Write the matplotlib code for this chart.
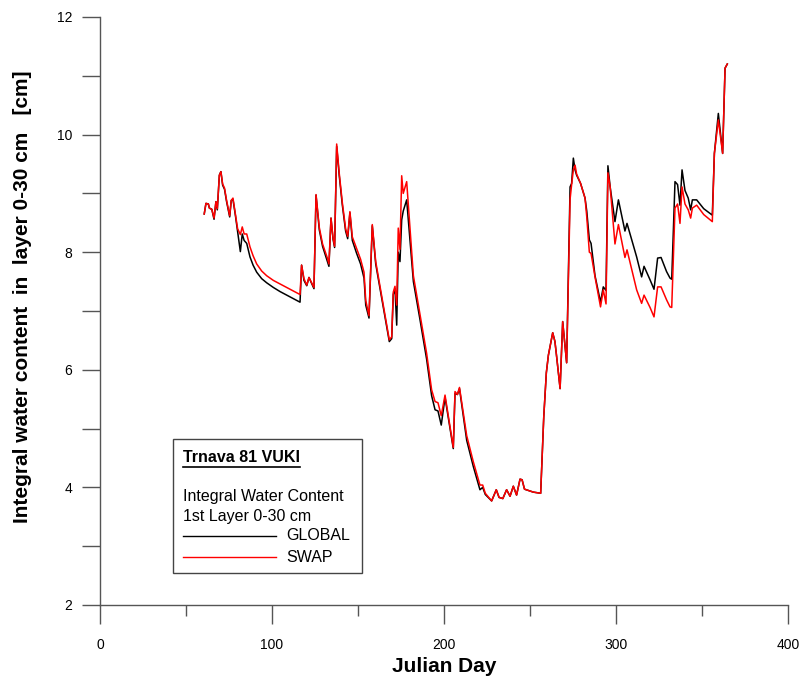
import numpy as np
import matplotlib
matplotlib.use("Agg")
import matplotlib.pyplot as plt
from matplotlib.lines import Line2D
from matplotlib.patches import Rectangle
from matplotlib.ticker import MultipleLocator

plt.rcParams["font.family"] = ["Liberation Sans", "DejaVu Sans"]

# Daily integral water content (cm), layer 0-30 cm
julian_day = [
    60.6, 61.6, 63.0, 63.6, 65.0, 66.3, 67.4, 68.2, 69.4, 70.3, 71.3, 72.4, 73.6,
    75.4, 76.3, 77.3, 78.7, 80.0, 81.6, 82.7, 83.8, 85.3, 87.2, 89.0, 91.1, 94.0,
    96.9, 100.8, 104.7,
    110.5, 116.3, 117.2, 118.6, 120.2, 121.5, 124.4, 125.6, 127.5, 129.4, 132.2,
    133.1, 134.3, 135.5, 136.4, 137.6, 139.1, 140.9, 142.8, 144.0, 145.3, 146.7,
    149.2, 151.5, 153.5, 154.5, 156.4, 158.3, 160.3, 162.8, 165.7, 168.2, 169.6,
    170.5, 171.5, 172.5, 173.4, 174.4, 175.4, 176.3, 178.3, 182.2, 186.0, 189.9,
    192.8, 194.8, 196.5, 198.4, 200.6, 205.4, 206.4, 207.8, 209.0, 213.2, 217.0,
    220.9, 222.5, 224.0, 227.7, 230.4, 232.0, 234.2, 236.4, 238.4, 240.3, 242.2,
    244.2, 245.4, 246.8, 251.9, 256.2, 258.0, 259.5, 260.7, 263.2, 264.5, 265.5,
    267.5, 269.0, 271.3, 273.3, 274.2, 275.2, 276.2, 277.1, 279.4, 282.0, 283.0,
    284.5, 285.5, 287.8, 291.0, 292.6, 294.2, 295.3, 296.6, 299.4, 301.4, 305.2,
    306.4, 312.0, 314.9, 316.3, 319.8, 322.1, 324.2, 326.2, 329.4, 331.4, 332.4,
    334.3, 335.8, 337.2, 338.4, 340.1, 342.0, 343.4, 344.4, 346.9, 351.0, 356.0,
    357.2, 359.5, 362.0, 363.4, 364.7,
]

global_wc = [
    8.65, 8.83, 8.82, 8.75, 8.73, 8.56, 8.86, 8.72, 9.31, 9.37, 9.14, 9.07, 8.86,
    8.60, 8.88, 8.90, 8.63, 8.35, 8.01, 8.31, 8.20, 8.15, 7.92, 7.78, 7.66, 7.55,
    7.48, 7.40, 7.33,
    7.24, 7.15, 7.78, 7.52, 7.43, 7.57, 7.38, 8.97, 8.38, 8.10, 7.84,
    7.76, 8.58, 8.22, 8.08, 9.80, 9.30, 8.80, 8.36, 8.23, 8.67, 8.20,
    7.98, 7.80, 7.56, 7.10, 6.88, 8.45, 7.80, 7.38, 6.90, 6.48, 6.53,
    7.28, 7.38, 6.76, 8.00, 7.84, 8.55, 8.70, 8.89, 7.50, 6.86, 6.18,
    5.56, 5.32, 5.30, 5.06, 5.53, 4.66, 5.60, 5.58, 5.68, 4.80, 4.36,
    3.96, 4.00, 3.88, 3.77, 3.96, 3.83, 3.81, 3.96, 3.85, 4.02, 3.87,
    4.14, 4.13, 3.97, 3.92, 3.90, 5.20, 5.95, 6.25, 6.63, 6.48, 6.22,
    5.68, 6.82, 6.12, 9.11, 9.17, 9.60, 9.40, 9.31, 9.17, 8.92, 8.70,
    8.21, 8.15, 7.60, 7.15, 7.41, 7.35, 9.47, 9.11, 8.52, 8.89, 8.36,
    8.49, 7.92, 7.58, 7.76, 7.53, 7.37, 7.90, 7.91, 7.67, 7.56, 7.54,
    9.20, 9.15, 8.80, 9.40, 9.05, 8.92, 8.72, 8.89, 8.89, 8.74, 8.63,
    9.68, 10.36, 9.68, 11.13, 11.20,
]

swap_wc = [
    8.65, 8.83, 8.82, 8.75, 8.73, 8.58, 8.86, 8.74, 9.31, 9.37, 9.16, 9.09, 8.88,
    8.62, 8.88, 8.92, 8.65, 8.40, 8.30, 8.43, 8.31, 8.31, 8.09, 7.94, 7.80, 7.68,
    7.60, 7.52, 7.46,
    7.37, 7.28, 7.78, 7.55, 7.44, 7.57, 7.40, 8.98, 8.42, 8.14, 7.90,
    7.80, 8.58, 8.24, 8.10, 9.84, 9.34, 8.84, 8.40, 8.27, 8.69, 8.26,
    8.06, 7.88, 7.66, 7.18, 6.92, 8.47, 7.84, 7.42, 6.94, 6.51, 6.56,
    7.32, 7.42, 7.10, 8.41, 8.05, 9.30, 9.00, 9.20, 7.60, 6.95, 6.28,
    5.66, 5.46, 5.44, 5.22, 5.57, 4.68, 5.63, 5.58, 5.70, 4.88, 4.44,
    4.04, 4.04, 3.90, 3.77, 3.96, 3.83, 3.81, 3.96, 3.85, 4.02, 3.87,
    4.14, 4.13, 3.97, 3.92, 3.90, 5.20, 5.95, 6.25, 6.63, 6.48, 6.22,
    5.68, 6.82, 6.12, 8.90, 9.15, 9.40, 9.48, 9.33, 9.17, 8.92, 8.60,
    8.00, 7.98, 7.58, 7.07, 7.36, 7.12, 9.35, 9.11, 8.14, 8.47, 7.91,
    8.04, 7.36, 7.13, 7.27, 7.06, 6.90, 7.41, 7.41, 7.19, 7.07, 7.06,
    8.75, 8.82, 8.49, 9.11, 8.82, 8.72, 8.58, 8.75, 8.80, 8.64, 8.52,
    9.68, 10.25, 9.68, 11.13, 11.20,
]

W, H = 805, 679
fig = plt.figure(figsize=(W / 100, H / 100), dpi=100)
ax = fig.add_axes([100 / W, 1 - 605 / H, 688 / W, 588 / H])


def px(x, y):
    # pixel position in the 805x679 image -> figure fraction
    return x / W, 1 - y / H


ax.plot(julian_day, global_wc, color="black", lw=1.1, label="GLOBAL")
ax.plot(julian_day, swap_wc, color="red", lw=1.1, label="SWAP")

ax.set_xlim(0, 400)
ax.set_ylim(2, 12)
ax.xaxis.set_major_locator(MultipleLocator(100))
ax.xaxis.set_minor_locator(MultipleLocator(50))
ax.yaxis.set_major_locator(MultipleLocator(2))
ax.yaxis.set_minor_locator(MultipleLocator(1))

axis_grey = "#555555"
for side in ("top", "right"):
    ax.spines[side].set_visible(False)
for side in ("left", "bottom"):
    ax.spines[side].set_color(axis_grey)
    ax.spines[side].set_linewidth(1.0)

ax.tick_params(axis="x", which="major", direction="out", length=14, width=1,
               color=axis_grey, pad=10, labelsize=10)
ax.tick_params(axis="x", which="minor", direction="out", length=8, width=1,
               color=axis_grey)
ax.tick_params(axis="y", which="both", direction="out", length=13, width=1,
               color=axis_grey, pad=7, labelsize=10)

ax.set_xlabel("Julian Day", fontsize=15, fontweight="bold", labelpad=3)
ax.set_ylabel("Integral water content  in  layer 0-30 cm   [cm]",
              fontsize=15, fontweight="bold")
ax.yaxis.set_label_coords(-0.099, 0.525)

# ---- boxed legend in the lower left ----
x0, y0 = px(173, 573)
x1, y1 = px(362, 439)
fig.patches.append(Rectangle((x0, y0), x1 - x0, y1 - y0, transform=fig.transFigure,
                             facecolor="white", edgecolor="#444444", lw=1.0))

title = fig.text(*px(183, 458), "Trnava 81 VUKI", fontsize=11.5, fontweight="bold",
                 ha="left", va="center")
fig.text(*px(183, 497), "Integral Water Content", fontsize=11.5, ha="left", va="center")
fig.text(*px(183, 516), "1st Layer 0-30 cm", fontsize=11.5, ha="left", va="center")

for yy, col, name in [(536, "black", "GLOBAL"), (557, "red", "SWAP")]:
    lx0, ly = px(183, yy)
    lx1, _ = px(276, yy)
    fig.lines.append(Line2D([lx0, lx1], [ly, ly], transform=fig.transFigure,
                            color=col, lw=1.0))
    fig.text(*px(286, yy), name, fontsize=11.5, ha="left", va="center")

# underline the legend title
fig.canvas.draw()
bb = title.get_window_extent().transformed(fig.transFigure.inverted())
uy = px(0, 467)[1]
fig.lines.append(Line2D([bb.x0, bb.x1], [uy, uy], transform=fig.transFigure,
                        color="black", lw=1.2))

fig.savefig("out.png", dpi=100)
